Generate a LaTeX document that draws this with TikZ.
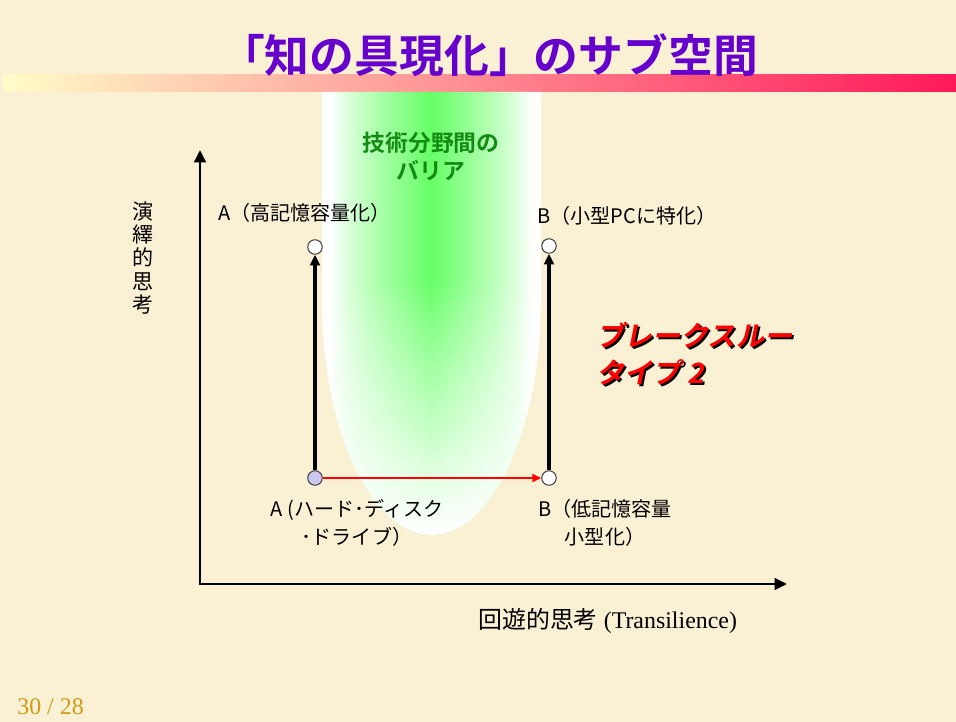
\documentclass[tikz,border=0pt]{standalone}
\usepackage{fontspec}
\setmainfont{Liberation Serif}
\newfontfamily\jpfont{Noto Sans CJK JP}
\newfontfamily\jpboldfont{Noto Sans CJK JP Bold}
\newfontfamily\brkfont[FakeSlant=0.2]{Noto Sans CJK JP Bold}
\usetikzlibrary{arrows.meta}

\begin{document}
\begin{tikzpicture}[x=0.02cm,y=-0.02cm,
  dot/.style={circle, draw=black!75, line width=0.6pt, fill=white, minimum size=0.29cm, inner sep=0pt},
  axis/.style={line width=1.7pt, {Triangle[length=7pt,width=6.5pt]}-{Triangle[length=7pt,width=6.5pt]}},
  rise/.style={line width=1.8pt, -{Triangle[length=6pt,width=5.5pt]}},
  jump/.style={line width=1.1pt, draw=red, -{Triangle[length=5pt,width=4.5pt]}},
  jp/.style={font=\jpfont\fontsize{11.4}{15.5}\selectfont, inner sep=0pt}]
\definecolor{paper}{RGB}{250,240,212}
\definecolor{barleft}{RGB}{255,252,200}
\definecolor{barmid}{RGB}{252,190,160}
\definecolor{barright}{RGB}{255,24,90}
\definecolor{barriergreen}{RGB}{102,255,102}
\definecolor{titlepurple}{RGB}{102,0,204}
\definecolor{barriertext}{RGB}{20,140,20}
\definecolor{pagegold}{RGB}{205,155,20}
\def\barrier{(322,92) -- (322,300) .. controls (322,430) and (371,535) .. (431.5,535) .. controls (492,535) and (541,430) .. (541,300) -- (541,92) -- cycle}

\fill[paper] (0,0) rectangle (956,722);
\useasboundingbox (0,0) rectangle (956,722);
\shade[left color=barleft, middle color=barmid, right color=barright] (3,75) rectangle (956,92);
\node[font=\jpboldfont\fontsize{25.5}{28}\selectfont, text=titlepurple, inner sep=0pt] (title) at (489,55) {「知の具現化」のサブ空間};

% barrier between fields: green in the middle, white to the sides and downwards
\begin{scope}
  \clip \barrier;
  \foreach \x in {322,325,...,541}{
    \pgfmathtruncatemacro\p{100*max(0.001,1-abs(\x+1.5-431.5)/100)^0.8}
    \fill[barriergreen!\p!white] (\x,90) rectangle (\x+3.4,540);
  }
  \foreach \y in {283,286,...,536}{
    \pgfmathsetmacro\o{min(1,((\y-280)/250)^0.9)}
    \fill[white, opacity=\o] (318,\y) rectangle (546,\y+3);
  }
\end{scope}
\node[font=\jpboldfont\fontsize{13}{16}\selectfont, text=barriertext, align=center, inner sep=0pt] (barrier) at (431,156) {技術分野間の\\バリア};

\coordinate (ytip) at (200,150);
\coordinate (xtip) at (787,584);
\draw[axis] (ytip) |- (xtip);

\node[dot, fill={rgb,255:red,200;green,200;blue,240}] (a0) at (315,478) {};
\node[dot] (a1) at (315,247) {};
\node[dot] (b0) at (549,478) {};
\node[dot] (b1) at (549,246) {};
\draw[rise] (a0) -- (a1);
\draw[rise] (b0) -- (b1);
\draw[jump] (a0) -- (b0);

\node[jp, anchor=west] (a1label) at (218,213) {A（高記憶容量化）};
\node[jp, anchor=west] (b1label) at (537,216) {B（小型PCに特化）};
\node[jp, align=center] (a0label) at (357,523) {A (ハード･ディスク\\･ドライブ）};
\node[jp, align=center] (b0label) at (605,523) {B（低記憶容量\\小型化）};
\node[jp, align=center, font=\jpfont\fontsize{12}{13.2}\selectfont] (ylabel) at (143,258) {演\\繹\\的\\思\\考};
\node[inner sep=0pt, anchor=west, font=\fontsize{13.6}{16}\selectfont] (xlabel) at (478,621) {{\jpfont 回遊的思考} (Transilience)};

\node[font=\brkfont\fontsize{16}{21}\selectfont, text=black, align=left, anchor=west, inner sep=0pt] (breakshadow) at (598,356) {ブレークスルー\\タイプ 2};
\node[font=\brkfont\fontsize{16}{21}\selectfont, text=red, align=left, anchor=west, inner sep=0pt] (break) at (596,354) {ブレークスルー\\タイプ 2};

\node[font=\fontsize{13.6}{16}\selectfont, text=pagegold, anchor=west, inner sep=0pt] (page) at (17,707) {30 / 28};
\end{tikzpicture}
\end{document}
